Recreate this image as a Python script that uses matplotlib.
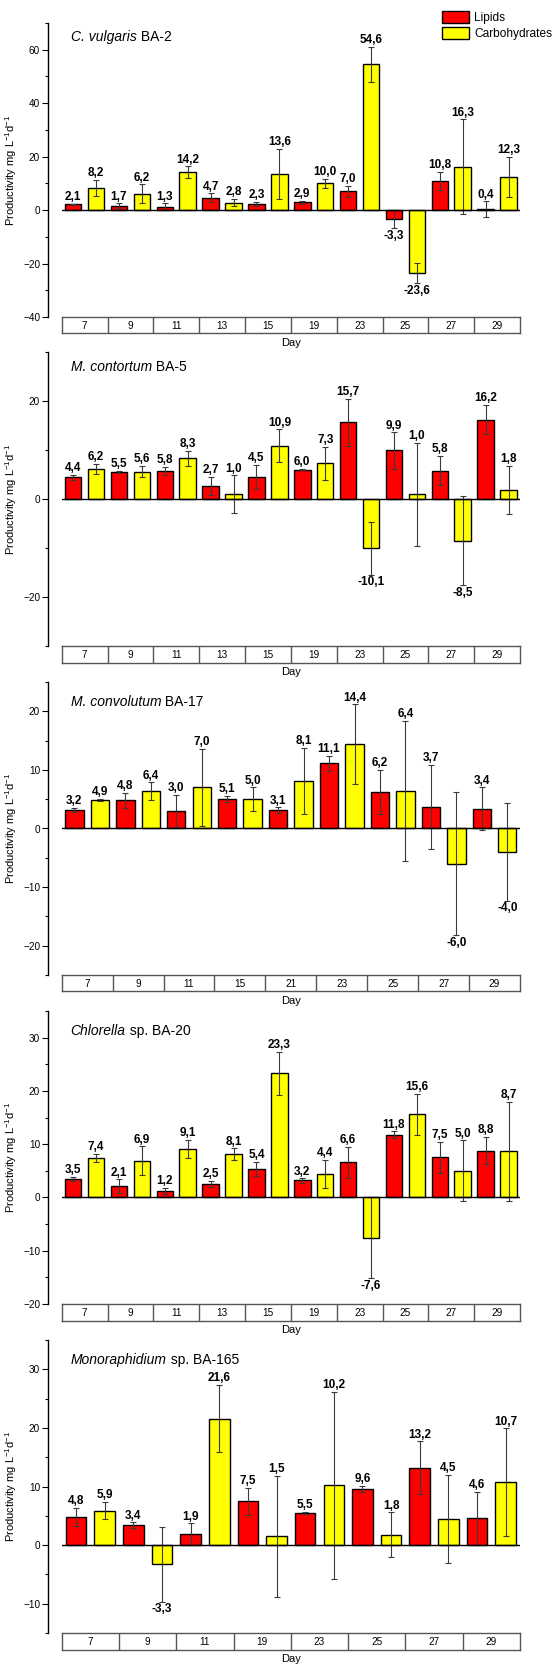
import numpy as np
import matplotlib.pyplot as plt
from matplotlib.patches import Patch

plt.rcParams['font.family'] = ['Liberation Sans', 'DejaVu Sans']
plt.rcParams['mathtext.fontset'] = 'custom'
plt.rcParams['mathtext.rm'] = 'Liberation Sans'

# productivity (mg L-1 d-1) per sampling day: lipids / carbohydrates with SD
days_ba2 = [7, 9, 11, 13, 15, 19, 23, 25, 27, 29]
lip_ba2 = [2.1, 1.7, 1.3, 4.7, 2.3, 2.9, 7.0, -3.3, 10.8, 0.4]
lip_err_ba2 = [0.3, 0.8, 1.2, 1.6, 0.7, 0.5, 2.2, 3.5, 3.4, 2.9]
carb_ba2 = [8.2, 6.2, 14.2, 2.8, 13.6, 10.0, 54.6, -23.6, 16.3, 12.3]
carb_err_ba2 = [3.1, 3.4, 2.2, 1.4, 9.4, 1.6, 6.5, 3.8, 17.6, 7.5]

days_ba5 = [7, 9, 11, 13, 15, 19, 23, 25, 27, 29]
lip_ba5 = [4.4, 5.5, 5.8, 2.7, 4.5, 6.0, 15.7, 9.9, 5.8, 16.2]
lip_err_ba5 = [0.6, 0.2, 0.8, 1.8, 2.5, 0.1, 4.8, 3.7, 3.0, 3.0]
carb_ba5 = [6.2, 5.6, 8.3, 1.0, 10.9, 7.3, -10.1, 1.0, -8.5, 1.8]
carb_err_ba5 = [1.0, 1.1, 1.5, 3.8, 3.3, 3.4, 5.4, 10.5, 9.1, 4.9]

days_ba17 = [7, 9, 11, 15, 21, 23, 25, 27, 29]
lip_ba17 = [3.2, 4.8, 3.0, 5.1, 3.1, 11.1, 6.2, 3.7, 3.4]
lip_err_ba17 = [0.3, 1.3, 2.7, 0.5, 0.5, 1.3, 3.8, 7.2, 3.6]
carb_ba17 = [4.9, 6.4, 7.0, 5.0, 8.1, 14.4, 6.4, -6.0, -4.0]
carb_err_ba17 = [0.2, 1.5, 6.6, 2.0, 5.7, 6.8, 12.0, 12.2, 8.3]

days_ba20 = [7, 9, 11, 13, 15, 19, 23, 25, 27, 29]
lip_ba20 = [3.5, 2.1, 1.2, 2.5, 5.4, 3.2, 6.6, 11.8, 7.5, 8.8]
lip_err_ba20 = [0.4, 1.3, 0.6, 0.6, 1.3, 0.4, 2.9, 0.6, 3.0, 2.6]
carb_ba20 = [7.4, 6.9, 9.1, 8.1, 23.3, 4.4, -7.6, 15.6, 5.0, 8.7]
carb_err_ba20 = [0.75, 2.7, 1.7, 1.1, 4.0, 2.7, 7.6, 3.8, 5.7, 9.3]

days_ba165 = [7, 9, 11, 19, 23, 25, 27, 29]
lip_ba165 = [4.8, 3.4, 1.9, 7.5, 5.5, 9.6, 13.2, 4.6]
lip_err_ba165 = [1.5, 0.5, 1.8, 2.3, 0.2, 0.5, 4.5, 4.5]
carb_ba165 = [5.9, -3.3, 21.6, 1.5, 10.2, 1.8, 4.5, 10.7]
carb_err_ba165 = [1.5, 6.4, 5.7, 10.3, 16.0, 3.8, 7.5, 9.2]

panels = [
    ('C. vulgaris', 'BA-2', days_ba2, lip_ba2, lip_err_ba2, carb_ba2, carb_err_ba2,
     (-40, 70), [-40, -20, 0, 20, 40, 60], 10, 23, 317, 14),
    ('M. contortum', 'BA-5', days_ba5, lip_ba5, lip_err_ba5, carb_ba5, carb_err_ba5,
     (-30, 30), [-20, 0, 20], 10, 352, 646, 15),
    ('M. convolutum', 'BA-17', days_ba17, lip_ba17, lip_err_ba17, carb_ba17, carb_err_ba17,
     (-25, 25), [-20, -10, 0, 10, 20], 5, 682, 975, 20),
    ('Chlorella', 'sp. BA-20', days_ba20, lip_ba20, lip_err_ba20, carb_ba20, carb_err_ba20,
     (-20, 35), [-20, -10, 0, 10, 20, 30], 5, 1011, 1304, 20),
    ('Monoraphidium', 'sp. BA-165', days_ba165, lip_ba165, lip_err_ba165, carb_ba165, carb_err_ba165,
     (-15, 35), [-10, 0, 10, 20, 30], 5, 1340, 1633, 20),
]

W, H = 557, 1669
fig = plt.figure(figsize=(W / 100, H / 100), dpi=100)
x0, x1 = 61.7, 520.0
table_h = 16.5

for (genus, strain, days, lip, lip_err, carb, carb_err,
     ylim, yticks, minor, top, bottom, title_off) in panels:
    ax = fig.add_axes([x0 / W, 1 - bottom / H, (x1 - x0) / W, (bottom - top) / H])

    # interleave lipids and carbohydrates: one pair per day
    n = len(days)
    vals = np.ravel(np.column_stack([lip, carb]))
    errs = np.ravel(np.column_stack([lip_err, carb_err]))
    cols = ['#ff0000', '#ffff00'] * n
    xs = np.arange(2 * n)

    ax.bar(xs, vals, width=0.72, color=cols, edgecolor='black', linewidth=1.0, zorder=2)
    ax.errorbar(xs, vals, yerr=errs, fmt='none', ecolor='#3a3a3a', elinewidth=0.8,
                capsize=2.2, capthick=0.8, zorder=3)
    ax.axhline(0, color='black', linewidth=1.0, zorder=4)

    for x, v, e in zip(xs, vals, errs):
        txt = ('%.1f' % v).replace('.', ',')
        if v >= 0:
            ax.annotate(txt, (x, v + e), xytext=(0, 0.5), textcoords='offset points',
                        ha='center', va='bottom', fontsize=8.5, fontweight='bold')
        else:
            ax.annotate(txt, (x, v - e), xytext=(0, -1), textcoords='offset points',
                        ha='center', va='top', fontsize=8.5, fontweight='bold')

    ax.set_xlim(-0.5, 2 * n - 0.5)
    ax.set_ylim(*ylim)
    ax.set_yticks(yticks)
    ax.set_yticks(np.arange(ylim[0], ylim[1] + 0.1, minor), minor=True)
    ax.set_xticks([])
    for s in ['top', 'right', 'bottom']:
        ax.spines[s].set_visible(False)
    ax.spines['left'].set_position(('outward', 10))
    ax.spines['left'].set_linewidth(1.0)
    ax.tick_params(axis='y', which='major', labelsize=7.2, length=4, width=0.8, pad=1.5)
    ax.tick_params(axis='y', which='minor', length=2, width=0.8)
    ax.set_ylabel('Productivity mg L$^{\\mathregular{-1}}$d$^{\\mathregular{-1}}$',
                  fontsize=8, labelpad=3)
    ax.yaxis.set_label_coords(-42.2 / (x1 - x0), 0.5)

    # species name in italics, strain code upright right after it
    name = ax.annotate(genus, (0, 1), xycoords='axes fraction', xytext=(6.5, -title_off * 0.72),
                       textcoords='offset points', ha='left', va='center', fontsize=10,
                       fontstyle='italic')
    fig.canvas.draw()
    bb = name.get_window_extent()
    ax.annotate(' ' + strain, (bb.x1, (bb.y0 + bb.y1) / 2), xycoords='figure pixels',
                ha='left', va='center', fontsize=10)

    # day table under the plot
    th = table_h / (bottom - top)
    tab = ax.inset_axes([0, -th, 1, th])
    tab.set_xlim(-0.5, 2 * n - 0.5)
    tab.set_ylim(0, 1)
    tab.set_xticks([])
    tab.set_yticks([])
    for s in tab.spines.values():
        s.set_color('#555555')
        s.set_linewidth(1.0)
    for k in range(1, n):
        tab.axvline(2 * k - 0.5, color='#555555', linewidth=1.0)
    for k, d in enumerate(days):
        tab.text(2 * k + 0.5, 0.47, str(d), ha='center', va='center', fontsize=7.2)
    tab.set_xlabel('Day', fontsize=8, labelpad=3)

handles = [Patch(facecolor='#ff0000', edgecolor='black', linewidth=1.0),
           Patch(facecolor='#ffff00', edgecolor='black', linewidth=1.0)]
fig.legend(handles, ['Lipids', 'Carbohydrates'], loc='upper left',
           bbox_to_anchor=(442 / W, 1 - 11 / H), frameon=False, fontsize=8.6,
           handlelength=2.3, handleheight=1.15, handletextpad=0.4,
           labelspacing=0.25, borderpad=0, borderaxespad=0)

plt.savefig('out.png', dpi=100)
